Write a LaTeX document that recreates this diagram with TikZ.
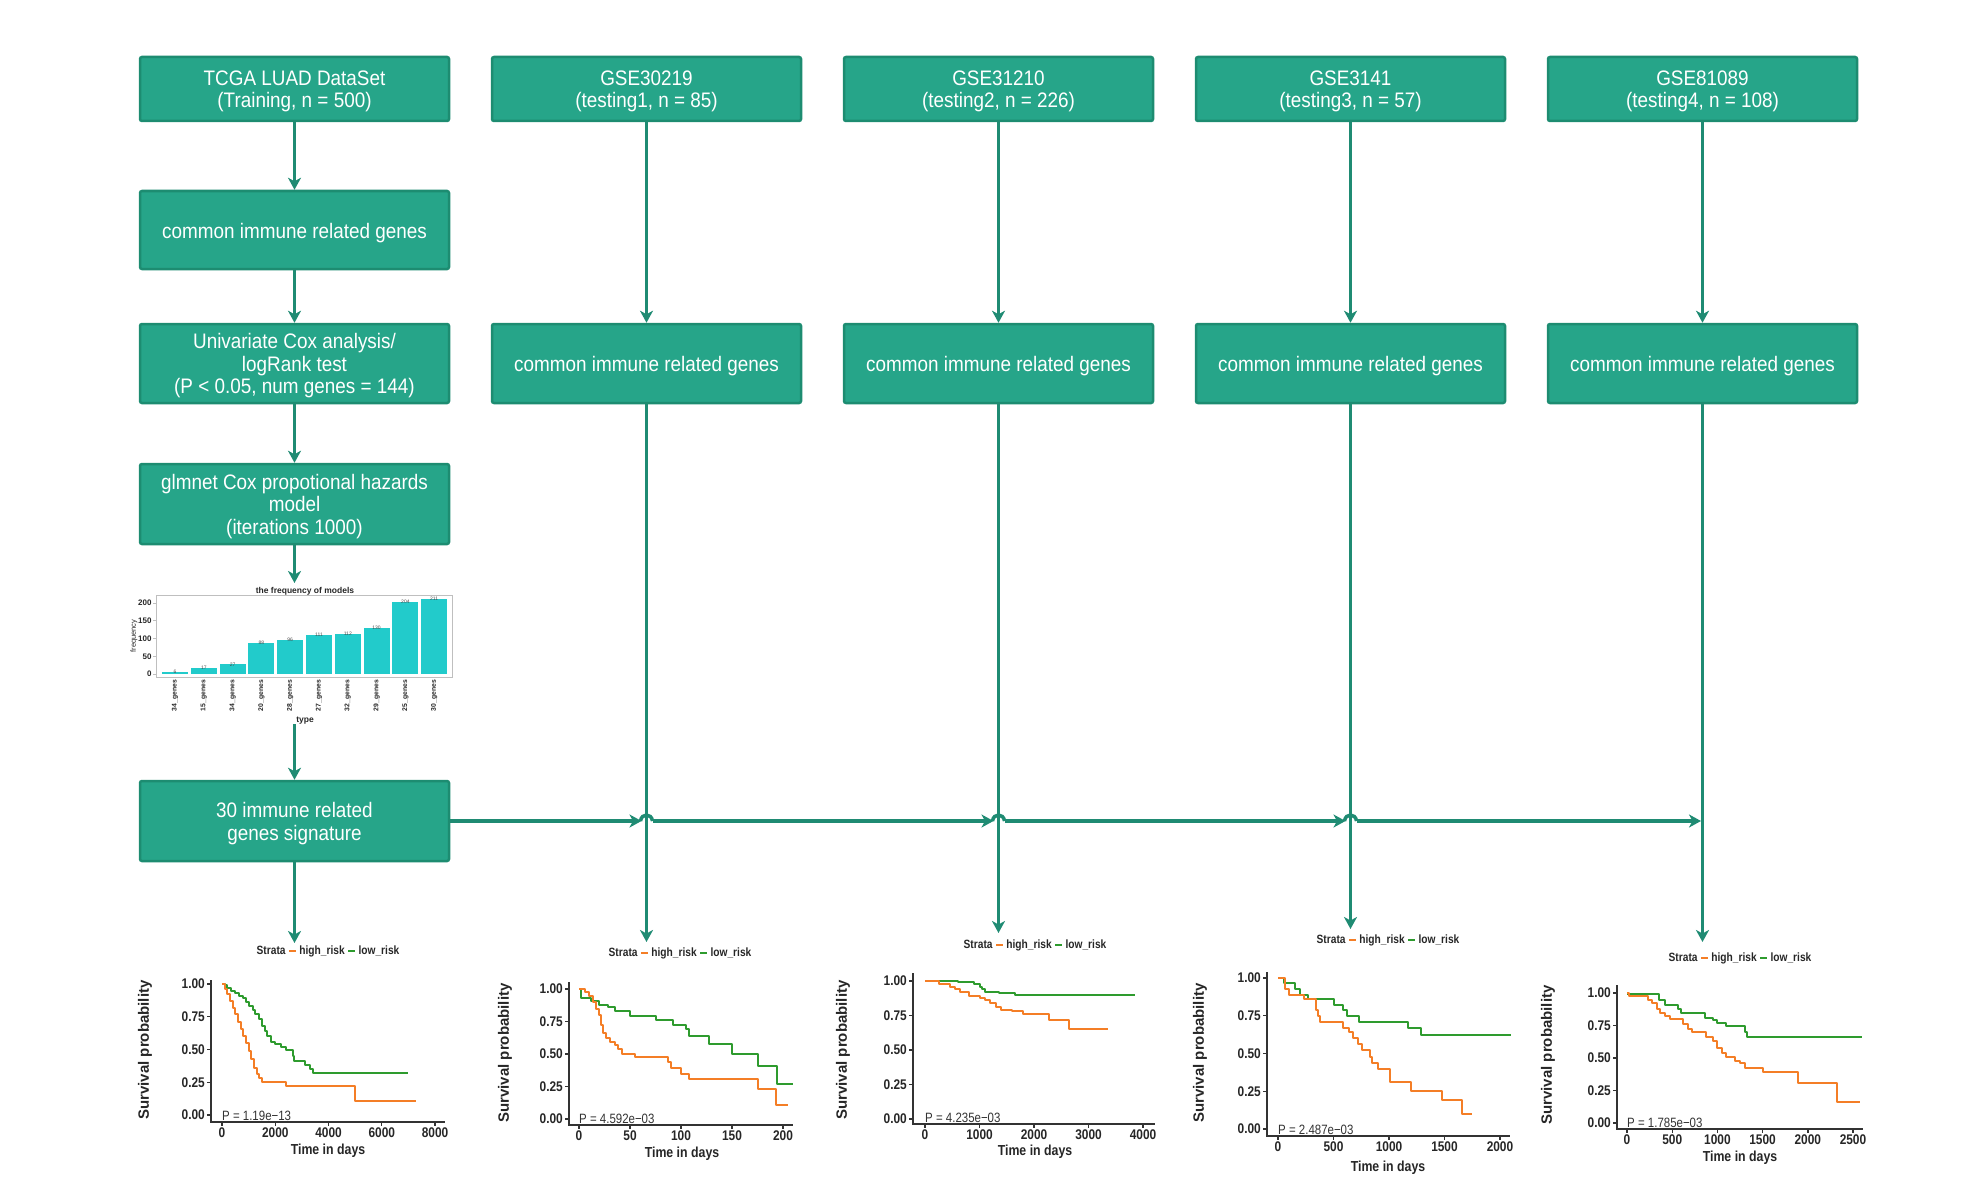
\documentclass[tikz,border=0pt]{standalone}
\usepackage{fontspec}
\setmainfont{Liberation Sans}
\newfontfamily\boxfont[FakeStretch=0.9]{Liberation Sans}
\newfontfamily\plotfont[FakeStretch=0.85]{Liberation Sans}
\usetikzlibrary{arrows.meta,calc}
\definecolor{boxfill}{HTML}{26A589}
\definecolor{boxline}{HTML}{1D8C71}
\definecolor{linec}{HTML}{1F8B73}
\definecolor{kmgreen}{HTML}{2E9B2E}
\definecolor{kmorange}{HTML}{F47E26}
\definecolor{barc}{HTML}{22CBCB}
\newcommand\legdash[1]{\hspace{0.3em}\textcolor{#1}{\rule[0.3ex]{0.55em}{0.2em}}\hspace{0.3em}}
\begin{document}
\begin{tikzpicture}[x=1pt,y=-1pt,
  box/.style={draw=boxline, fill=boxfill, line width=2.5pt, rounded corners=2pt,
    minimum width=309pt, inner sep=0pt},
  boxtext/.style={text=white, align=center, inner sep=0pt,
    font=\boxfont\fontsize{21}{22.5}\selectfont},
  conn/.style={draw=linec, line width=3.5pt, -{Stealth[length=12pt,width=13pt,inset=3.5pt]}},
  hop/.style={draw=linec, line width=3.5pt},
  kmaxis/.style={line width=1.4pt, draw=black!80},
  km/.style={line width=2pt, line join=round},
  ticklab/.style={font=\plotfont\bfseries\fontsize{14}{15}\selectfont, text=black!85},
  legendlab/.style={font=\plotfont\bfseries\fontsize{12}{14}\selectfont, text=black!85, inner sep=0pt},
  xlab/.style={font=\plotfont\bfseries\fontsize{14.5}{16}\selectfont, text=black!85, inner sep=0pt},
  ylab/.style={font=\bfseries\fontsize{15}{17}\selectfont, text=black!85, inner sep=0pt, rotate=90},
  plab/.style={font=\plotfont\fontsize{13.5}{15}\selectfont, text=black!80, inner sep=0pt, anchor=base west},
  barframe/.style={draw=black!25, line width=1pt},
  barticklab/.style={font=\bfseries\fontsize{8}{9}\selectfont, text=black!85},
  barxlab/.style={font=\bfseries\fontsize{6.8}{8}\selectfont, text=black!85, inner sep=1pt},
  bartitle/.style={font=\bfseries\fontsize{8.5}{10}\selectfont, text=black!85, inner sep=0pt},
  barval/.style={font=\fontsize{5}{6}\selectfont, text=black!70, inner sep=0pt}
]
\useasboundingbox (0,0) rectangle (1982,1188);

% ---------- boxes ----------
\node[box, minimum height=64pt] (tcga) at (294.5,89) {};
\node[box, minimum height=64pt] (g1) at (646.5,89) {};
\node[box, minimum height=64pt] (g2) at (998.5,89) {};
\node[box, minimum height=64pt] (g3) at (1350.5,89) {};
\node[box, minimum height=64pt] (g4) at (1702.5,89) {};
\node[box, minimum height=78pt] (cig) at (294.5,230) {};
\node[box, minimum height=79pt] (uni) at (294.5,363.5) {};
\node[box, minimum height=79pt] (c1) at (646.5,363.5) {};
\node[box, minimum height=79pt] (c2) at (998.5,363.5) {};
\node[box, minimum height=79pt] (c3) at (1350.5,363.5) {};
\node[box, minimum height=79pt] (c4) at (1702.5,363.5) {};
\node[box, minimum height=80pt] (glm) at (294.5,504) {};
\node[box, minimum height=80pt] (sig) at (294.5,821) {};

\node[boxtext] (tcga-t) at ([yshift=-2.5pt]tcga.center) {TCGA LUAD DataSet\\(Training, n = 500)};
\node[boxtext] (g1-t) at ([yshift=-2.5pt]g1.center) {GSE30219\\(testing1, n = 85)};
\node[boxtext] (g2-t) at ([yshift=-2.5pt]g2.center) {GSE31210\\(testing2, n = 226)};
\node[boxtext] (g3-t) at ([yshift=-2.5pt]g3.center) {GSE3141\\(testing3, n = 57)};
\node[boxtext] (g4-t) at ([yshift=-2.5pt]g4.center) {GSE81089\\(testing4, n = 108)};
\node[boxtext] (cig-t) at ([yshift=-3pt]cig.center) {common immune related genes};
\node[boxtext] (uni-t) at ([yshift=-2.5pt]uni.center) {Univariate Cox analysis/\\logRank test\\(P < 0.05, num genes = 144)};
\node[boxtext] (c1-t) at ([yshift=-3pt]c1.center) {common immune related genes};
\node[boxtext] (c2-t) at ([yshift=-3pt]c2.center) {common immune related genes};
\node[boxtext] (c3-t) at ([yshift=-3pt]c3.center) {common immune related genes};
\node[boxtext] (c4-t) at ([yshift=-3pt]c4.center) {common immune related genes};
\node[boxtext] (glm-t) at ([yshift=-2.5pt]glm.center) {glmnet Cox propotional hazards\\model\\(iterations 1000)};
\node[boxtext] (sig-t) at ([yshift=-2.5pt]sig.center) {30 immune related\\genes signature};

% ---------- coordinates ----------
\coordinate (chartTop) at (294.5,583);
\coordinate (chartBot) at (294.5,724);
\coordinate (tip1) at (294.5,943);
\coordinate (tip2) at (646.5,942);
\coordinate (tip3) at (998.5,933);
\coordinate (tip4) at (1350.5,929);
\coordinate (tip5) at (1702.5,942);
\coordinate (h2) at (646.5,821);
\coordinate (h3) at (998.5,821);
\coordinate (h4) at (1350.5,821);
\coordinate (h5) at (1702.5,821);

% ---------- connectors ----------
\draw[conn] (tcga) -- (cig);
\draw[conn] (cig) -- (uni);
\draw[conn] (uni) -- (glm);
\draw[conn] (glm) -- (chartTop);
\draw[conn] (chartBot) -- (sig);
\draw[conn] (sig) -- (tip1);
\draw[conn] (g1) -- (c1);
\draw[conn] (g2) -- (c2);
\draw[conn] (g3) -- (c3);
\draw[conn] (g4) -- (c4);
\draw[conn] (c1) -- (tip2);
\draw[conn] (c2) -- (tip3);
\draw[conn] (c3) -- (tip4);
\draw[conn] (c4) -- (tip5);

\draw[conn] (sig.east) -- ([xshift=-5pt]h2);
\draw[hop] ([xshift=-6pt]h2) .. controls ([xshift=-5pt,yshift=8pt]h2) and ([xshift=5pt,yshift=8pt]h2) .. ([xshift=6pt]h2);
\draw[conn] ([xshift=6pt]h2) -- ([xshift=-5pt]h3);
\draw[hop] ([xshift=-6pt]h3) .. controls ([xshift=-5pt,yshift=8pt]h3) and ([xshift=5pt,yshift=8pt]h3) .. ([xshift=6pt]h3);
\draw[conn] ([xshift=6pt]h3) -- ([xshift=-5pt]h4);
\draw[hop] ([xshift=-6pt]h4) .. controls ([xshift=-5pt,yshift=8pt]h4) and ([xshift=5pt,yshift=8pt]h4) .. ([xshift=6pt]h4);
\draw[conn] ([xshift=6pt]h4) -- ([xshift=-1.5pt]h5);

% ---------- bar chart ----------
\node[bartitle] at (305,591) {the frequency of models};
\foreach \i/\v/\g in {0/6/34,1/17/15,2/27/34,3/88/20,4/96/28,5/111/27,6/112/32,7/130/29,8/204/25,9/211/30}{
  \fill[barc] ({162+28.8*\i},674) rectangle ({188+28.8*\i},{674-0.355*\v});
  \node[barval] at ({175+28.8*\i},{674-0.355*\v}) {\v};
  \node[barxlab, rotate=90, anchor=east] at ({175+28.8*\i},679) {\g\_genes};
}
\draw[barframe] (156,595) rectangle (452,677);
\foreach \v in {0,50,100,150,200}{
  \draw[barframe] (156,{674-0.355*\v}) -- ++(-3,0) node[left, barticklab, inner sep=1pt] {\v};
}
\node[bartitle] at (305,721) {type};
\node[barticklab, rotate=90, font=\fontsize{7.5}{8}\selectfont] at (134,636) {frequency};

% ---------- KM plot 1 ----------
\node[legendlab] at (328,951) {Strata\legdash{kmorange}high\_risk\legdash{kmgreen}low\_risk};
\begin{scope}[shift={(222pt,-1115pt)},x=0.026625pt,y=131pt]
\draw[km,kmgreen] plot[const plot] coordinates {(0,1) (100,0.99) (200,0.97) (350,0.95) (500,0.93) (650,0.91) (800,0.89) (900,0.86) (1000,0.83) (1150,0.80) (1250,0.77) (1400,0.73) (1500,0.68) (1600,0.64) (1700,0.60) (1850,0.56) (2000,0.54) (2200,0.52) (2400,0.50) (2650,0.45) (2700,0.41) (3100,0.38) (3300,0.35) (3400,0.32) (7000,0.32)};
\draw[km,kmorange] plot[const plot] coordinates {(0,1) (100,0.96) (200,0.92) (300,0.87) (400,0.82) (500,0.77) (600,0.71) (700,0.66) (800,0.60) (900,0.55) (1000,0.49) (1100,0.43) (1200,0.36) (1300,0.31) (1400,0.28) (1500,0.25) (2400,0.22) (5000,0.11) (7300,0.11)};
\end{scope}
\draw[kmaxis] (211,980) -- (211,1122) -- (445,1122);
\foreach \v/\l in {1/1.00,0.75/0.75,0.5/0.50,0.25/0.25,0/0.00}
  \draw[kmaxis] (211,{1115-131*\v}) -- ++(-4,0) node[left,inner sep=1.5pt,ticklab]{\l};
\foreach \d in {0,2000,4000,6000,8000}
  \draw[kmaxis] ({222+0.026625*\d},1122) -- ++(0,4) node[below,inner sep=1.5pt,ticklab]{\d};
\node[plab] at (222,1120) {P = 1.19e−13};
\node[xlab] at (328,1151) {Time in days};
\node[ylab] at (145,1050) {Survival probability};

% ---------- KM plot 2 ----------
\node[legendlab] at (680,953) {Strata\legdash{kmorange}high\_risk\legdash{kmgreen}low\_risk};
\begin{scope}[shift={(579pt,-1119pt)},x=1.02pt,y=130pt]
\draw[km,kmgreen] plot[const plot] coordinates {(0,1) (2,0.93) (12,0.91) (20,0.88) (28,0.86) (35,0.83) (50,0.79) (75,0.76) (92,0.72) (105,0.69) (108,0.64) (127,0.58) (150,0.50) (175,0.41) (194,0.27) (210,0.27)};
\draw[km,kmorange] plot[const plot] coordinates {(0,1) (6,0.98) (10,0.95) (14,0.90) (17,0.85) (20,0.80) (22,0.72) (24,0.66) (26,0.62) (30,0.59) (35,0.57) (38,0.54) (42,0.50) (55,0.48) (87,0.44) (90,0.39) (100,0.35) (108,0.31) (175,0.23) (193,0.11) (205,0.11)};
\end{scope}
\draw[kmaxis] (569,982) -- (569,1125) -- (793,1125);
\foreach \v/\l in {1/1.00,0.75/0.75,0.5/0.50,0.25/0.25,0/0.00}
  \draw[kmaxis] (569,{1119-130*\v}) -- ++(-4,0) node[left,inner sep=1.5pt,ticklab]{\l};
\foreach \d in {0,50,100,150,200}
  \draw[kmaxis] ({579+1.02*\d},1125) -- ++(0,4) node[below,inner sep=1.5pt,ticklab]{\d};
\node[plab] at (579,1123) {P = 4.592e−03};
\node[xlab] at (682,1154) {Time in days};
\node[ylab] at (505,1053) {Survival probability};

% ---------- KM plot 3 ----------
\node[legendlab] at (1035,945) {Strata\legdash{kmorange}high\_risk\legdash{kmgreen}low\_risk};
\begin{scope}[shift={(925pt,-1119pt)},x=0.0545pt,y=138pt]
\draw[km,kmgreen] plot[const plot] coordinates {(0,1) (600,0.99) (900,0.98) (1000,0.96) (1050,0.94) (1100,0.92) (1350,0.91) (1650,0.90) (3850,0.90)};
\draw[km,kmorange] plot[const plot] coordinates {(0,1) (250,0.98) (450,0.96) (550,0.94) (650,0.92) (800,0.89) (1000,0.88) (1100,0.86) (1200,0.84) (1300,0.81) (1400,0.79) (1600,0.78) (1800,0.76) (2270,0.72) (2650,0.65) (3350,0.65)};
\end{scope}
\draw[kmaxis] (913,973) -- (913,1124) -- (1155,1124);
\foreach \v/\l in {1/1.00,0.75/0.75,0.5/0.50,0.25/0.25,0/0.00}
  \draw[kmaxis] (913,{1119-138*\v}) -- ++(-4,0) node[left,inner sep=1.5pt,ticklab]{\l};
\foreach \d in {0,1000,2000,3000,4000}
  \draw[kmaxis] ({925+0.0545*\d},1124) -- ++(0,4) node[below,inner sep=1.5pt,ticklab]{\d};
\node[plab] at (925,1122) {P = 4.235e−03};
\node[xlab] at (1035,1152) {Time in days};
\node[ylab] at (843,1050) {Survival probability};

% ---------- KM plot 4 ----------
\node[legendlab] at (1388,940) {Strata\legdash{kmorange}high\_risk\legdash{kmgreen}low\_risk};
\begin{scope}[shift={(1278pt,-1129pt)},x=0.111pt,y=151pt]
\draw[km,kmgreen] plot[const plot] coordinates {(0,1) (50,0.97) (150,0.93) (200,0.89) (270,0.86) (500,0.82) (590,0.79) (620,0.75) (730,0.71) (1170,0.67) (1290,0.62) (2100,0.62)};
\draw[km,kmorange] plot[const plot] coordinates {(0,1) (60,0.93) (100,0.89) (230,0.86) (340,0.79) (360,0.75) (380,0.71) (590,0.67) (640,0.64) (680,0.60) (720,0.56) (760,0.52) (830,0.48) (850,0.44) (900,0.40) (1010,0.31) (1200,0.25) (1480,0.19) (1660,0.10) (1750,0.10)};
\end{scope}
\draw[kmaxis] (1267,972) -- (1267,1136) -- (1510,1136);
\foreach \v/\l in {1/1.00,0.75/0.75,0.5/0.50,0.25/0.25,0/0.00}
  \draw[kmaxis] (1267,{1129-151*\v}) -- ++(-4,0) node[left,inner sep=1.5pt,ticklab]{\l};
\foreach \d in {0,500,1000,1500,2000}
  \draw[kmaxis] ({1278+0.111*\d},1136) -- ++(0,4) node[below,inner sep=1.5pt,ticklab]{\d};
\node[plab] at (1278,1134) {P = 2.487e−03};
\node[xlab] at (1388,1168) {Time in days};
\node[ylab] at (1200,1053) {Survival probability};

% ---------- KM plot 5 ----------
\node[legendlab] at (1740,958) {Strata\legdash{kmorange}high\_risk\legdash{kmgreen}low\_risk};
\begin{scope}[shift={(1627pt,-1123pt)},x=0.0904pt,y=130pt]
\draw[km,kmgreen] plot[const plot] coordinates {(0,0.99) (350,0.95) (420,0.91) (560,0.88) (600,0.85) (860,0.81) (950,0.79) (1000,0.77) (1100,0.75) (1300,0.70) (1330,0.66) (2600,0.66)};
\draw[km,kmorange] plot[const plot] coordinates {(0,1) (20,0.98) (230,0.95) (280,0.92) (330,0.88) (370,0.85) (420,0.82) (480,0.80) (620,0.76) (680,0.72) (720,0.70) (870,0.66) (950,0.63) (1000,0.58) (1050,0.54) (1100,0.51) (1200,0.48) (1250,0.46) (1300,0.42) (1500,0.39) (1890,0.31) (2320,0.16) (2580,0.16)};
\end{scope}
\draw[kmaxis] (1617,985) -- (1617,1129) -- (1863,1129);
\foreach \v/\l in {1/1.00,0.75/0.75,0.5/0.50,0.25/0.25,0/0.00}
  \draw[kmaxis] (1617,{1123-130*\v}) -- ++(-4,0) node[left,inner sep=1.5pt,ticklab]{\l};
\foreach \d in {0,500,1000,1500,2000,2500}
  \draw[kmaxis] ({1627+0.0904*\d},1129) -- ++(0,4) node[below,inner sep=1.5pt,ticklab]{\d};
\node[plab] at (1627,1127) {P = 1.785e−03};
\node[xlab] at (1740,1158) {Time in days};
\node[ylab] at (1548,1055) {Survival probability};
\end{tikzpicture}
\end{document}
